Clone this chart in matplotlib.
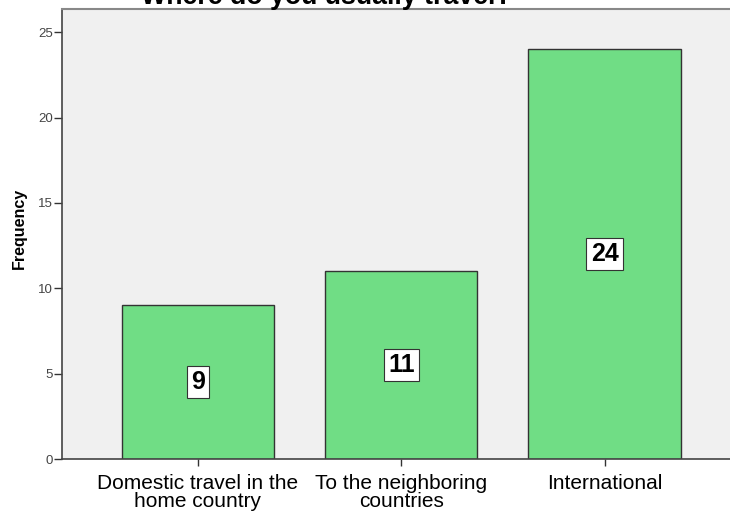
import matplotlib
matplotlib.use("Agg")
import matplotlib.pyplot as plt

# データ
categories = ["Domestic travel in the\nhome country", "To the neighboring\ncountries", "International"]
counts = [9, 11, 24]
title_text = "Where do you usually travel?"

plt.rcParams["font.family"] = ["Liberation Sans", "DejaVu Sans"]

W, H = 730, 511
fig = plt.figure(figsize=(W / 100, H / 100), dpi=100)
# プロット領域（右端は画像外まで伸びる）
ax = fig.add_axes([62 / W, 1 - 459 / H, (740.5 - 62) / W, (459 - 9.5) / H])
ax.set_facecolor("#F0F0F0")

x = list(range(len(categories)))
bars = ax.bar(x, counts, width=0.75, color="#70DD85", edgecolor="#333333", linewidth=1.0)

# 値ラベル（白い枠）
for xi, c in zip(x, counts):
    ax.text(xi, c / 2, str(c), ha="center", va="center", fontsize=18, fontweight="bold",
            bbox=dict(boxstyle="square,pad=0.17", facecolor="white", edgecolor="#333333", linewidth=0.8))

ax.set_xlim(-0.669, 2.669)
ax.set_ylim(0, 26.33)
ax.set_yticks([0, 5, 10, 15, 20, 25])
ax.set_xticks(x)
ax.set_xticklabels(categories, fontsize=15, linespacing=0.9)
ax.tick_params(axis="y", labelsize=9.5, colors="#333333", length=5.5, width=1, direction="out", pad=1)
ax.tick_params(axis="x", colors="#333333", length=5, width=1, direction="out", pad=6)
for lbl in ax.get_xticklabels():
    lbl.set_color("black")
for lbl in ax.get_yticklabels():
    lbl.set_color("#444444")

ax.set_ylabel("Frequency", fontsize=11.5, fontweight="bold")
ax.yaxis.set_label_coords(-0.052, 0.513)

for side in ["left", "bottom"]:
    ax.spines[side].set_color("#444444")
    ax.spines[side].set_linewidth(1.2)
ax.spines["top"].set_color("#888888")
ax.spines["top"].set_linewidth(1.5)
ax.spines["right"].set_visible(False)

# タイトル（参照画像と同様に上端で切れている）
fig.text(326 / W, 1 - 4 / H, title_text, ha="center", va="baseline",
         fontsize=19.3, fontweight="bold")

fig.savefig("out.png", dpi=100)
